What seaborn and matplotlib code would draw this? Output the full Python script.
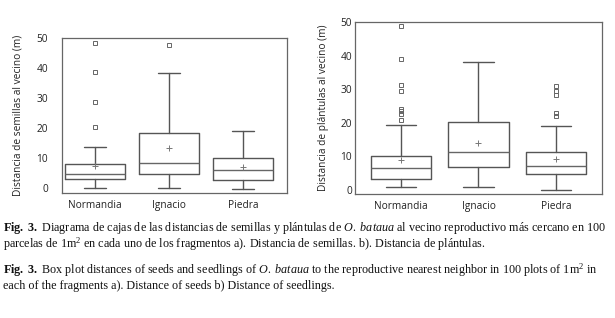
import matplotlib
matplotlib.use("Agg")
import matplotlib.pyplot as plt
import seaborn as sns

# fragments
sites = ["Normandia", "Ignacio", "Piedra"]

# a) seed distance to nearest reproductive neighbour (m)
seed_low = [0.0, 0.0, -0.6]
seed_q1 = [2.8, 4.5, 2.5]
seed_med = [4.7, 8.3, 5.8]
seed_q3 = [7.8, 18.2, 9.9]
seed_high = [13.7, 38.3, 18.9]
seed_mean = [7.4, 13.4, 6.9]
seed_out = [[20.4, 28.8, 38.6, 48.5], [47.8], []]

# b) seedling distance to nearest reproductive neighbour (m)
sdl_low = [0.8, 1.0, 0.0]
sdl_q1 = [3.4, 6.8, 4.8]
sdl_med = [6.5, 11.2, 7.2]
sdl_q3 = [10.0, 20.4, 11.4]
sdl_high = [19.5, 38.1, 19.2]
sdl_mean = [8.9, 14.0, 9.2]
sdl_out = [[20.9, 22.7, 23.6, 24.3, 29.4, 31.4, 39.1, 48.9], [],
           [22.0, 23.1, 28.2, 29.6, 31.0]]

sns.set_theme(style="white")
plt.rcParams['font.family'] = ['Open Sans', 'DejaVu Sans']
plt.rcParams['mathtext.fontset'] = 'custom'
plt.rcParams['mathtext.rm'] = 'Liberation Serif'
plt.rcParams['mathtext.it'] = 'Liberation Serif:italic'
plt.rcParams['mathtext.bf'] = 'Liberation Serif:bold'


def make_stats(low, q1, med, q3, high, mean, out):
    stats = []
    for i in range(len(sites)):
        stats.append({"label": sites[i], "whislo": low[i], "q1": q1[i], "med": med[i],
                      "q3": q3[i], "whishi": high[i], "mean": mean[i], "fliers": out[i]})
    return stats


def draw_box(ax, stats, ylabel, ylim, xlim, width, capw, pad, labelpad):
    line = dict(color="#555555", linewidth=1.0)
    ax.bxp(stats, positions=range(len(stats)), widths=width, capwidths=capw,
           showmeans=True, patch_artist=False,
           boxprops=line, whiskerprops=line, capprops=line,
           medianprops=dict(color="#666666", linewidth=1.0),
           meanprops=dict(marker="+", markersize=4, markeredgecolor="#777777",
                          markeredgewidth=0.7),
           flierprops=dict(marker="s", markersize=2.8, markerfacecolor="none",
                           markeredgecolor="#666666", markeredgewidth=0.7))
    ax.set_ylim(*ylim)
    ax.set_xlim(*xlim)
    ax.set_yticks([0, 10, 20, 30, 40, 50])
    ax.set_ylabel(ylabel, fontsize=7.3, color="#222222", labelpad=labelpad)
    ax.tick_params(axis="x", length=0, labelsize=7.3, colors="#222222", pad=5)
    ax.tick_params(axis="y", length=0, labelsize=7.3, colors="#222222", pad=pad)
    for s in ax.spines.values():
        s.set_color("#666666")
        s.set_linewidth(0.9)


fig = plt.figure(figsize=(6.15, 3.18), dpi=100)

ax1 = fig.add_axes([0.1008, 0.3931, 0.3659, 0.4874])
draw_box(ax1, make_stats(seed_low, seed_q1, seed_med, seed_q3, seed_high, seed_mean, seed_out),
         "Distancia de semillas al vecino (m)", (-1.8, 50.1), (-0.45, 2.6), 0.82, 0.3, 10, 9)

ax2 = fig.add_axes([0.5772, 0.3899, 0.4016, 0.5409])
draw_box(ax2, make_stats(sdl_low, sdl_q1, sdl_med, sdl_q3, sdl_high, sdl_mean, sdl_out),
         "Distancia de plántulas al vecino (m)", (-1.2, 50.1), (-0.59, 2.59), 0.78, 0.39, 2, 8)

cap_lines = [
    (r"$\mathbf{Fig.\ 3.}$ Diagrama de cajas de las distancias de semillas y plántulas de "
     r"$\mathit{O.\ bataua}$ al vecino reproductivo más cercano en 100", 228),
    (r"parcelas de 1m$^2$ en cada uno de los fragmentos a). Distancia de semillas. "
     r"b). Distancia de plántulas.", 244),
    (r"$\mathbf{Fig.\ 3.}$ Box plot distances of seeds and seedlings of "
     r"$\mathit{O.\ bataua}$ to the reproductive nearest neighbor in 100 plots of 1m$^2$ in", 270),
    (r"each of the fragments a). Distance of seeds b) Distance of seedlings.", 286),
]
for txt, ypx in cap_lines:
    fig.text(3 / 615, 1 - ypx / 318, txt, fontsize=8.7, family="Liberation Serif",
             color="#111111", va="center", ha="left")

fig.savefig("out.png", dpi=100)
